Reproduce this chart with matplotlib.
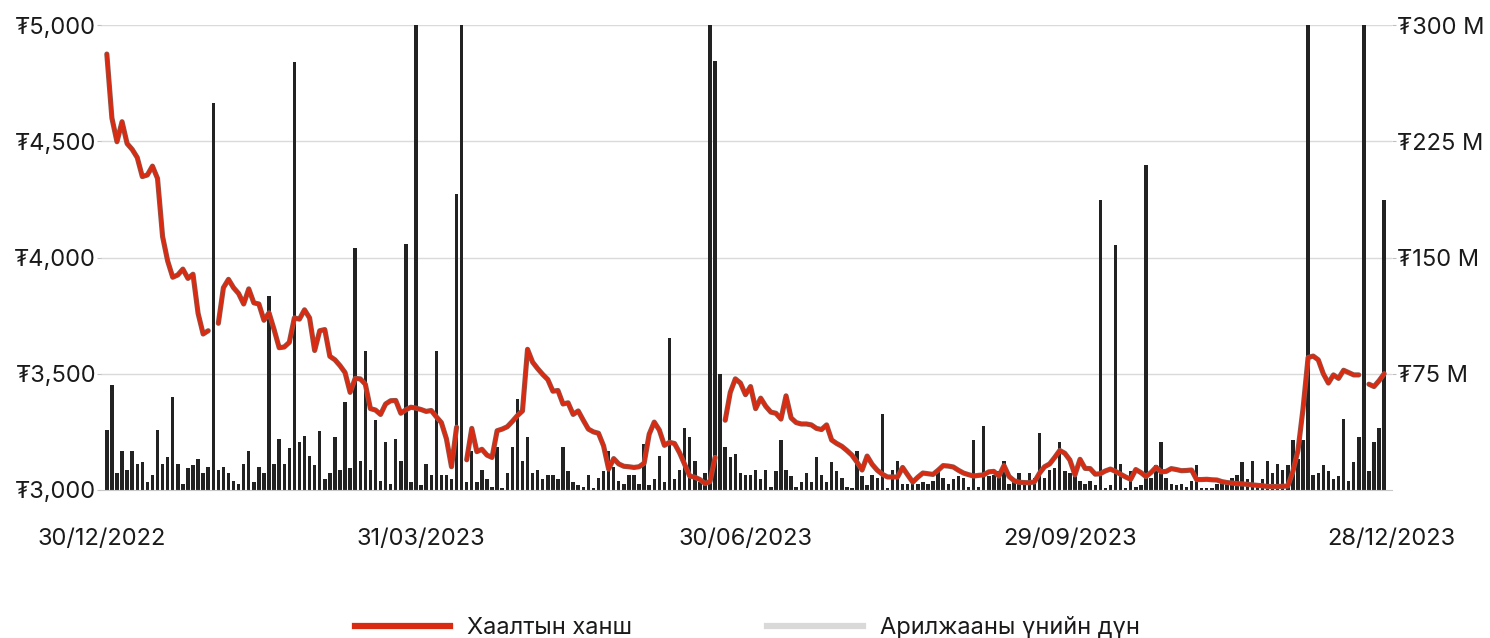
import matplotlib
matplotlib.use("Agg")
import matplotlib.pyplot as plt
import matplotlib.patheffects as pe
import numpy as np
from matplotlib.lines import Line2D

nan = float("nan")

# daily trading value, million tugrik (one bar per trading day)
volume = [
    39, 68, 11, 25, 13, 25, 17, 18, 5, 10,
    39, 17, 21, 60, 17, 4, 14, 16, 20, 11,
    15, 250, 13, 15, 11, 6, 4, 17, 25, 5,
    15, 11, 125, 17, 33, 17, 27, 276, 31, 35,
    22, 16, 38, 7, 11, 34, 13, 57, 14, 156,
    19, 90, 13, 45, 6, 31, 4, 33, 19, 159,
    5, 320, 3, 17, 10, 90, 10, 10, 7, 191,
    330, 5, 25, 5, 13, 7, 2, 28, 1, 11,
    28, 59, 19, 34, 11, 13, 7, 10, 10, 7,
    28, 12, 5, 3, 2, 10, 1, 8, 12, 25,
    15, 6, 4, 10, 10, 4, 30, 3, 7, 22,
    5, 98, 7, 13, 40, 34, 19, 5, 11, 340,
    277, 75, 28, 21, 23, 11, 10, 10, 13, 7,
    13, 2, 12, 32, 13, 9, 2, 5, 11, 5,
    21, 10, 5, 18, 12, 8, 2, 1, 25, 9,
    3, 10, 8, 49, 1, 13, 19, 4, 4, 4,
    4, 5, 4, 6, 12, 8, 4, 7, 9, 8,
    2, 32, 2, 41, 9, 10, 12, 19, 4, 5,
    11, 5, 11, 8, 37, 8, 13, 14, 31, 12,
    11, 9, 6, 4, 6, 3, 187, 1, 3, 158,
    17, 1, 12, 2, 3, 210, 8, 16, 31, 8,
    4, 3, 4, 2, 6, 16, 1, 1, 1, 4,
    5, 5, 8, 10, 18, 7, 19, 4, 7, 19,
    11, 17, 13, 16, 32, 20, 32, 330, 10, 11,
    16, 12, 7, 9, 46, 6, 18, 34, 330, 12,
    31, 40, 187,
]

# closing price, tugrik (nan = no quote)
close_price = [
    4875, 4600, 4498, 4584, 4490, 4465, 4430, 4348, 4355, 4393,
    4340, 4090, 3985, 3915, 3925, 3950, 3910, 3928, 3760, 3671,
    3685, nan, 3717, 3870, 3906, 3870, 3845, 3800, 3865, 3805,
    3800, 3730, 3762, 3690, 3612, 3615, 3635, 3740, 3735, 3775,
    3740, 3600, 3685, 3690, 3575, 3560, 3535, 3505, 3420, 3480,
    3478, 3455, 3350, 3344, 3325, 3370, 3384, 3385, 3330, 3345,
    3356, 3352, 3346, 3338, 3342, 3315, 3290, 3220, 3100, 3270,
    nan, 3130, 3265, 3165, 3175, 3150, 3140, 3255, 3262, 3272,
    3295, 3320, 3340, 3605, 3550, 3522, 3497, 3475, 3425, 3428,
    3370, 3375, 3325, 3340, 3300, 3262, 3250, 3244, 3190, 3090,
    3135, 3112, 3102, 3100, 3097, 3100, 3115, 3240, 3292, 3258,
    3192, 3205, 3200, 3160, 3110, 3060, 3055, 3045, 3028, 3036,
    3140, nan, 3300, 3420, 3478, 3460, 3410, 3445, 3350, 3395,
    3360, 3335, 3330, 3305, 3405, 3310, 3290, 3284, 3284, 3280,
    3265, 3260, 3280, 3215, 3200, 3188, 3170, 3150, 3120, 3086,
    3146, 3110, 3085, 3068, 3056, 3056, 3056, 3097, 3065, 3034,
    3055, 3073, 3070, 3067, 3085, 3105, 3103, 3099, 3085, 3073,
    3066, 3060, 3063, 3065, 3078, 3080, 3060, 3105, 3058, 3040,
    3033, 3032, 3031, 3035, 3072, 3100, 3112, 3140, 3170, 3158,
    3129, 3065, 3132, 3093, 3092, 3068, 3070, 3082, 3090, 3080,
    3068, 3056, 3046, 3088, 3075, 3058, 3075, 3098, 3078, 3080,
    3092, 3088, 3083, 3084, 3086, 3045, 3045, 3046, 3044, 3043,
    3036, 3032, 3030, 3027, 3026, 3024, 3022, 3020, 3018, 3015,
    3015, 3015, 3016, 3017, 3080, 3170, 3350, 3570, 3576, 3560,
    3500, 3460, 3495, 3480, 3515, 3505, 3495, 3495, nan, 3455,
    3445, 3470, 3500,
]

date_labels = ["30/12/2022", "31/03/2023", "30/06/2023", "29/09/2023", "28/12/2023"]
price_ticks = [3000, 3500, 4000, 4500, 5000]
volume_ticks = [75, 150, 225, 300]
legend_labels = ["Хаалтын ханш", "Арилжааны үнийн дүн"]

LINE_RED = "#d92b12"
BAR_DARK = "#222222"
LEGEND_GRAY = "#d9d9d9"
GRID = "#dadada"
TEXT = "#1a1a1a"
W, H = 1490, 638

plt.rcParams["font.family"] = ["Inter", "DejaVu Sans"]

fig = plt.figure(figsize=(W / 100, H / 100), dpi=100)
ax = fig.add_axes([101 / W, 148 / H, 1291 / W, 465 / H])
ax2 = ax.twinx()

x = np.arange(len(volume))

# volume bars on the right axis, drawn underneath the price line
ax2.bar(x, volume, width=0.68, color=BAR_DARK, zorder=2)
ax2.set_ylim(0, 300)
ax2.set_yticks(volume_ticks)
ax2.set_yticklabels([f"₮{v} M" for v in volume_ticks])
ax2.set_axisbelow(True)
ax2.grid(axis="y", color=GRID, lw=1)

ax.plot(
    x, close_price, color=LINE_RED, lw=2.6, solid_capstyle="round",
    path_effects=[pe.Stroke(linewidth=3.7, foreground="#8a5a50"), pe.Normal()],
)
ax.set_ylim(3000, 5000)
ax.set_yticks(price_ticks)
ax.set_yticklabels([f"₮{p:,}" for p in price_ticks])
ax.set_zorder(ax2.get_zorder() + 1)
ax.patch.set_visible(False)

ax.set_xlim(-1.15, 253.55)
ax.set_xticks([-1, 62, 126, 190, 253.4])
ax.set_xticklabels(date_labels)

for a in (ax, ax2):
    for s in a.spines.values():
        s.set_visible(False)
ax.spines["bottom"].set_visible(True)
ax.spines["bottom"].set_color("#c8c8c8")

ax.tick_params(axis="x", length=0, pad=27, labelsize=17, labelcolor=TEXT)
ax.tick_params(axis="y", length=3, color="#c0c0c0", pad=0.5, labelsize=17, labelcolor=TEXT)
ax2.tick_params(axis="y", length=3, color="#c0c0c0", pad=0.5, labelsize=17, labelcolor=TEXT)

# legend drawn by hand at the bottom edge
fig.add_artist(Line2D([355 / W, 450 / W], [1 - 626 / H] * 2, color=LINE_RED, lw=4.5,
                      transform=fig.transFigure))
fig.add_artist(Line2D([767 / W, 863 / W], [1 - 626 / H] * 2, color=LEGEND_GRAY, lw=4.5,
                      transform=fig.transFigure))
fig.text(467 / W, 1 - 634 / H, legend_labels[0], fontsize=17, color=TEXT, va="baseline")
fig.text(880 / W, 1 - 634 / H, legend_labels[1], fontsize=17, color=TEXT, va="baseline")

fig.savefig("out.png", dpi=100)
